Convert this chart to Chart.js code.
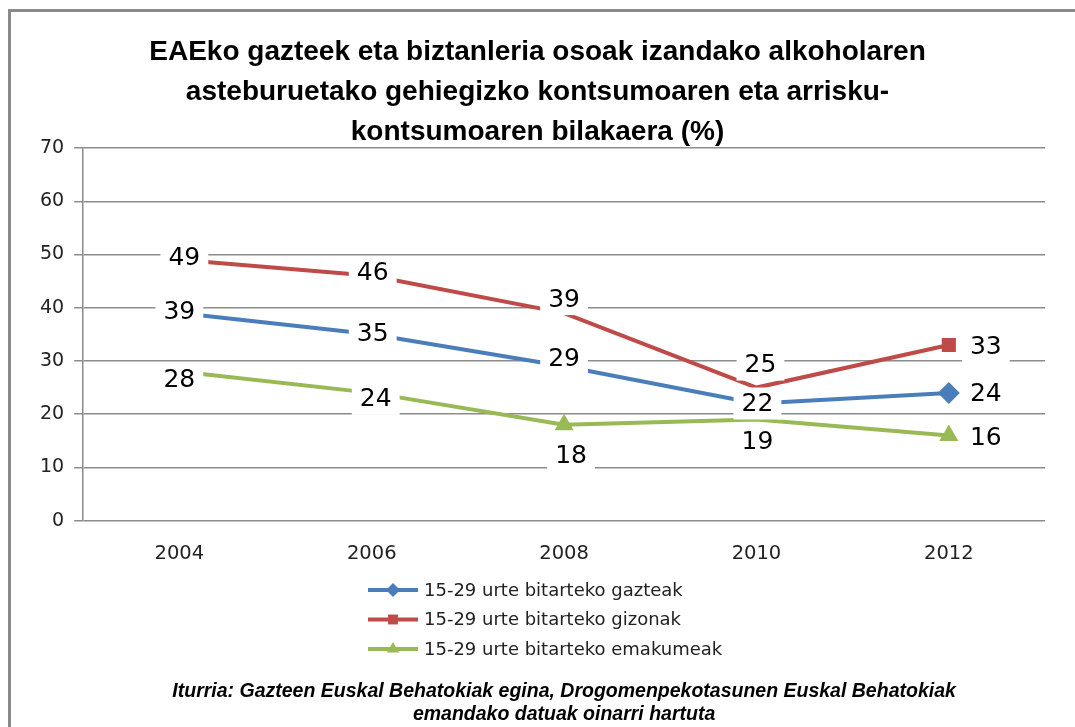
<!DOCTYPE html>
<html>
<head>
<meta charset="utf-8">
<script src="https://cdn.jsdelivr.net/npm/chart.js@4"></script>
<style>
  html, body { margin: 0; padding: 0; background: #fff; }
  #wrap { width: 1075px; height: 727px; position: relative; }
</style>
</head>
<body>
<div id="wrap"><canvas id="lineChart" width="1075" height="727"></canvas></div>
<script>
// urteak (x ardatza)
const years = ['2004', '2006', '2008', '2010', '2012'];

// serieak (%)
const gazteak = [39, 35, 29, 22, 24];
const gizonak = [49, 46, 39, 25, 33];
const emakumeak = [28, 24, 18, 19, 16];

const seriesNames = [
  '15-29 urte bitarteko gazteak',
  '15-29 urte bitarteko gizonak',
  '15-29 urte bitarteko emakumeak'
];

const yTicks = [0, 10, 20, 30, 40, 50, 60, 70];

const titleLines = [
  'EAEko gazteek eta biztanleria osoak izandako alkoholaren',
  'asteburuetako gehiegizko kontsumoaren eta arrisku-',
  'kontsumoaren bilakaera (%)'
];
const sourceLines = [
  'Iturria: Gazteen Euskal Behatokiak egina, Drogomenpekotasunen Euskal Behatokiak',
  'emandako datuak oinarri hartuta'
];

/* ▼ etiketen desplazamendua (px), puntuarekiko */
const labelShift = [
  [[0, -2], [1, -1], [0, -8], [1, 0], [37, 1]],
  [[5, -2], [1, -3], [0, -14], [4, -23], [37, 2]],
  [[0, 8], [4, 6], [7, 31], [1, 22], [37, 2]]
];

const colors = ['#4a7ebb', '#be4b48', '#98b954'];
const shapes = ['rectRot', 'rect', 'triangle'];

// marko grisa (goian eta ezkerrean)
const framePlugin = {
  id: 'frame',
  beforeDraw(chart) {
    const c = chart.ctx;
    c.save();
    c.fillStyle = '#fff';
    c.fillRect(0, 0, chart.width, chart.height);
    c.strokeStyle = '#8a8a8a';
    c.lineWidth = 3;
    c.beginPath();
    c.moveTo(9.5, chart.height);
    c.lineTo(9.5, 10.5);
    c.lineTo(chart.width, 10.5);
    c.stroke();
    c.restore();
  }
};

// datu-etiketak, atzealde zuriarekin
const labelPlugin = {
  id: 'valueLabels',
  afterDatasetsDraw(chart) {
    const c = chart.ctx;
    c.save();
    c.font = '25px "DejaVu Sans"';
    c.textAlign = 'center';
    c.textBaseline = 'middle';
    chart.data.datasets.forEach((ds, i) => {
      chart.getDatasetMeta(i).data.forEach((pt, j) => {
        const x = pt.x + labelShift[i][j][0];
        const y = pt.y + labelShift[i][j][1];
        const txt = String(ds.data[j]);
        const w = c.measureText(txt).width + 16;
        c.fillStyle = '#fff';
        c.fillRect(x - w / 2, y - 16, w, 32);
        c.fillStyle = '#000';
        c.fillText(txt, x, y + 1);
      });
    });
    c.restore();
  }
};

// legenda bertikala
const legendPlugin = {
  id: 'vLegend',
  afterDraw(chart) {
    const c = chart.ctx;
    const x0 = 368;
    const top = chart.scales.x.bottom + 2;
    c.save();
    c.font = '18px "DejaVu Sans"';
    c.textBaseline = 'middle';
    seriesNames.forEach((name, i) => {
      const y = top + i * 29.5;
      c.strokeStyle = colors[i];
      c.lineWidth = 4;
      c.beginPath();
      c.moveTo(x0, y);
      c.lineTo(x0 + 50, y);
      c.stroke();
      c.fillStyle = colors[i];
      Chart.helpers.drawPoint(c, { pointStyle: shapes[i], radius: 7, rotation: 0, borderWidth: 0 }, x0 + 25, y);
      c.fillStyle = '#222';
      c.fillText(name, x0 + 56, y + 1);
    });
    c.restore();
  }
};

function makeSet(i, data, radii) {
  return {
    label: seriesNames[i],
    data: data,
    borderColor: colors[i],
    backgroundColor: colors[i],
    borderWidth: 4,
    tension: 0,
    pointStyle: shapes[i],
    pointRadius: radii,
    pointHoverRadius: radii,
    pointBorderWidth: 0
  };
}

const ctx = document.getElementById('lineChart');

new Chart(ctx, {
  type: 'line',
  data: {
    labels: years,
    datasets: [
      makeSet(0, gazteak, [0, 0, 0, 0, 11]),
      makeSet(1, gizonak, [0, 0, 0, 0, 10]),
      makeSet(2, emakumeak, [0, 0, 11, 0, 11])
    ]
  },
  options: {
    responsive: false,
    animation: false,
    events: [],
    layout: {
      padding: { top: 32, left: 30, right: 30, bottom: 1 }
    },
    plugins: {
      legend: { display: false },
      tooltip: { enabled: false },
      title: {
        display: true,
        text: titleLines,
        color: '#000',
        font: { family: '"Liberation Sans"', size: 28, weight: 'bold', lineHeight: 1.43 },
        padding: { top: 0, bottom: -4 }
      },
      subtitle: {
        display: true,
        position: 'bottom',
        fullSize: false,
        text: sourceLines,
        color: '#000',
        font: { family: '"Liberation Sans"', size: 19.5, weight: 'bold', style: 'italic', lineHeight: 1.18 },
        padding: { top: 92, bottom: 0 }
      }
    },
    scales: {
      x: {
        offset: true,
        grid: { display: false, drawTicks: false },
        border: { display: false },
        ticks: {
          color: '#222',
          padding: 22,
          font: { family: '"DejaVu Sans"', size: 19.5 }
        }
      },
      y: {
        min: 0,
        max: 70,
        afterBuildTicks(axis) {
          axis.ticks = yTicks.map(v => ({ value: v }));
        },
        grid: { color: '#8c8c8c', lineWidth: 1.5, tickLength: 9 },
        border: { display: true, color: '#8c8c8c', width: 1.5 },
        ticks: {
          color: '#222',
          padding: 10,
          font: { family: '"DejaVu Sans"', size: 19 }
        }
      }
    }
  },
  plugins: [framePlugin, labelPlugin, legendPlugin]
});
</script>
</body>
</html>
